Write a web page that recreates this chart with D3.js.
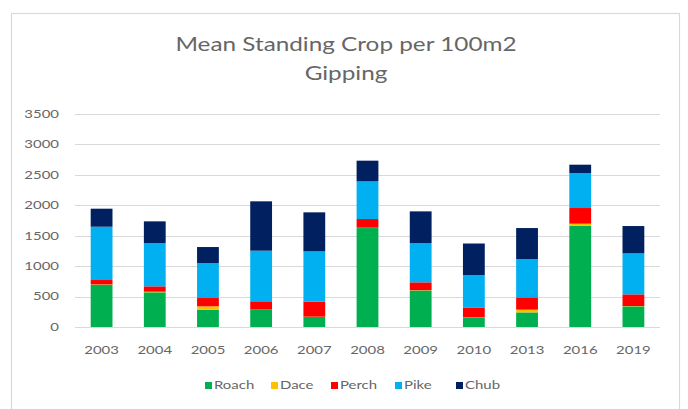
<!DOCTYPE html>
<html>
<head>
<meta charset="utf-8">
<script src="https://cdn.jsdelivr.net/npm/d3@7"></script>
<style>
  html, body { margin: 0; padding: 0; background: #fff; }
  svg { display: block; font-family: Lato, "Open Sans", sans-serif; }
</style>
</head>
<body>
<svg id="chart" width="688" height="409"></svg>
<script>
// Survey years and mean standing crop per 100 m2 for each species
const years = ["2003", "2004", "2005", "2006", "2007", "2008", "2009", "2010", "2013", "2016", "2019"];
const species = ["Roach", "Dace", "Perch", "Pike", "Chub"];
const roach = [695, 570, 285, 280, 165, 1626, 600, 160, 240, 1665, 340];
const dace  = [5, 10, 55, 5, 5, 5, 5, 3, 45, 33, 5];
const perch = [72, 88, 136, 137, 246, 143, 129, 152, 202, 257, 191];
const pike  = [876, 712, 575, 832, 827, 619, 646, 537, 630, 575, 674];
const chub  = [296, 356, 263, 811, 641, 340, 520, 520, 509, 137, 449];
const yTicks = [0, 500, 1000, 1500, 2000, 2500, 3000, 3500];
const colors = ["#00b050", "#ffc000", "#ff0000", "#00b0f0", "#002060"];

const seriesValues = { Roach: roach, Dace: dace, Perch: perch, Pike: pike, Chub: chub };
const rows = years.map((y, i) => {
  const r = { year: y };
  species.forEach(s => r[s] = seriesValues[s][i]);
  return r;
});

const svg = d3.select("#chart");
const textColor = "#666666";
const sx = 1.3; // the chart is drawn horizontally widened, text included

// text at (x, y) widened by sx about its anchor point
function wideText(parent, x, y, str, size, anchor) {
  return parent.append("text")
    .attr("transform", `translate(${x},${y}) scale(${sx},1)`)
    .attr("text-anchor", anchor)
    .attr("dominant-baseline", "middle")
    .attr("fill", textColor)
    .style("font-size", size + "px")
    .text(str);
}

// chart frame
svg.append("rect")
  .attr("x", 11.5).attr("y", 13.5)
  .attr("width", 668).attr("height", 420)
  .attr("fill", "#fff").attr("stroke", "#d9d9d9").attr("stroke-width", 1.2);

const plot = { left: 75, right: 660, top: 114, bottom: 327 };

const x = d3.scaleBand().domain(years).range([plot.left, plot.right]).paddingInner(0.59).paddingOuter(0.295);
const y = d3.scaleLinear().domain([0, 3500]).range([plot.bottom, plot.top]);

// gridlines
svg.append("g")
  .selectAll("line").data(yTicks).join("line")
  .attr("x1", plot.left).attr("x2", plot.right)
  .attr("y1", d => Math.round(y(d)) + 0.5).attr("y2", d => Math.round(y(d)) + 0.5)
  .attr("stroke", "#d9d9d9").attr("stroke-width", 1);

// y axis labels
const gy = svg.append("g");
yTicks.forEach(t => wideText(gy, plot.left - 16, y(t) + 1, d3.format("d")(t), 11.5, "end"));

// x axis labels
const gx = svg.append("g");
years.forEach(yr => wideText(gx, x(yr) + x.bandwidth() / 2, plot.bottom + 24, yr, 11.5, "middle"));

// stacked bars
const stacked = d3.stack().keys(species)(rows);
svg.append("g")
  .selectAll("g").data(stacked).join("g")
  .attr("fill", (d, i) => colors[i])
  .selectAll("rect").data(d => d).join("rect")
  .attr("x", d => x(d.data.year))
  .attr("width", x.bandwidth())
  .attr("y", d => y(d[1]))
  .attr("height", d => y(d[0]) - y(d[1]));

// title
const gt = svg.append("g");
wideText(gt, 346, 46, "Mean Standing Crop per 100m2", 18.7, "middle");
wideText(gt, 346, 75, "Gipping", 18.7, "middle");

// legend
const legendX = [205, 271, 331, 395, 456];
const lg = svg.append("g");
species.forEach((s, i) => {
  lg.append("rect").attr("x", legendX[i]).attr("y", 382).attr("width", 7).attr("height", 7)
    .attr("fill", colors[i]);
  wideText(lg, legendX[i] + 9, 386, s, 11.5, "start");
});
</script>
</body>
</html>
